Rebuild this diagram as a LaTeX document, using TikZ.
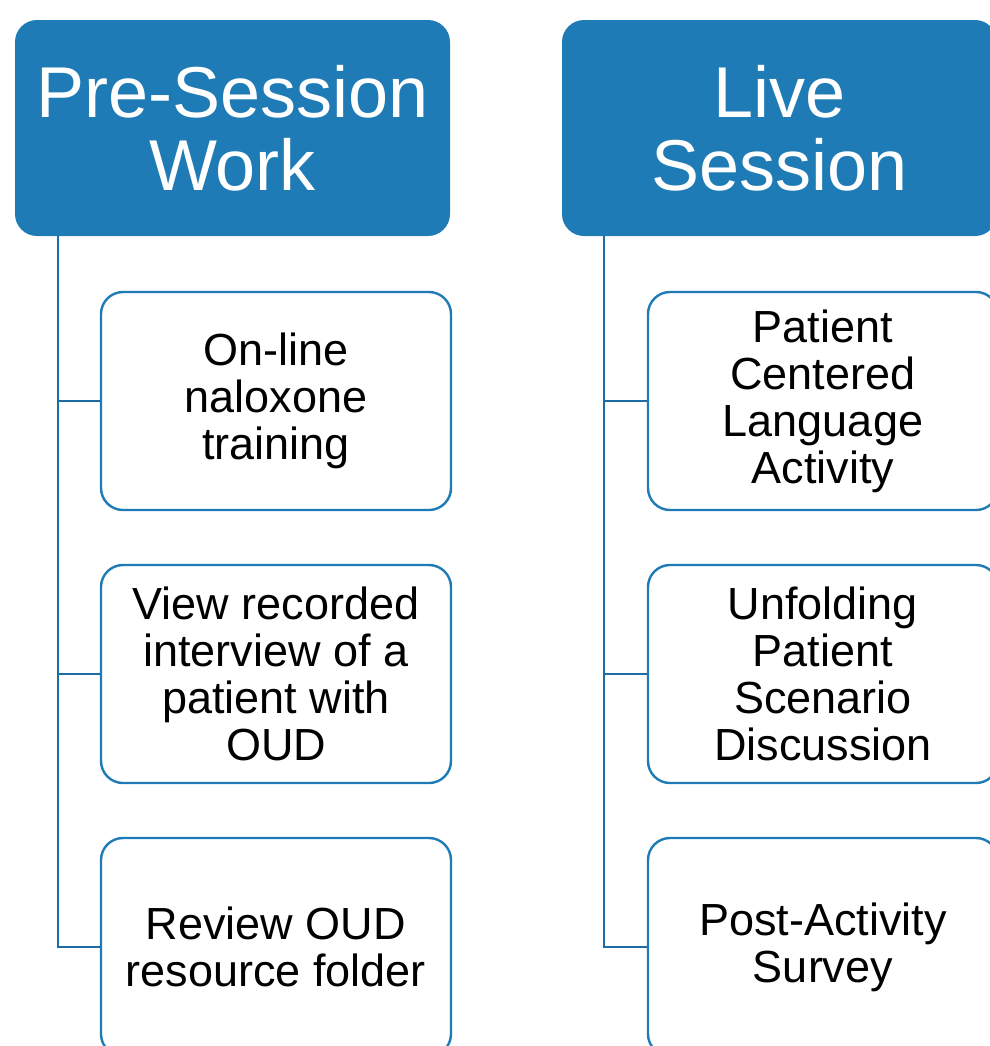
\documentclass[tikz,border=0pt]{standalone}
\usepackage{fontspec}
\setmainfont{Liberation Sans}
\usepackage{xcolor}
\definecolor{hdrblue}{RGB}{31,123,182}
\definecolor{lineblue}{RGB}{30,108,166}

\begin{document}
\begin{tikzpicture}[x=0.5pt,y=-0.5pt,
  header/.style={fill=hdrblue,draw=none,rounded corners=11pt,minimum width=217.5pt,
    minimum height=108pt,inner sep=0pt,text=white,align=center,
    font=\fontsize{36}{36.5}\selectfont},
  item/.style={draw=hdrblue,line width=1.2pt,fill=white,rounded corners=11pt,
    minimum width=175pt,minimum height=109pt,inner sep=0pt,align=center,
    font=\fontsize{22.5}{23.5}\selectfont},
  branch/.style={draw=lineblue,line width=1pt}]
\useasboundingbox (0,0) rectangle (990,1046);
\clip (0,0) rectangle (990,1046);

% headers
\node[header] (pre) at (232.5,128) {Pre-Session\\Work};
\node[header] (live) at (779.5,128) {Live\\Session};

% pre-session items
\node[item] (pre1) at (276,401) {On-line\\naloxone\\training};
\node[item] (pre2) at (276,674) {View recorded\\interview of a\\patient with\\OUD};
\node[item] (pre3) at (276,947) {Review OUD\\resource folder};

% live session items
\node[item] (live1) at (823,401) {Patient\\Centered\\Language\\Activity};
\node[item] (live2) at (823,674) {Unfolding\\Patient\\Scenario\\Discussion};
\node[item] (live3) at (823,947) {Post-Activity\\Survey};

% branches
\draw[branch] ([xshift=21.5pt]pre.south west) |- (pre1.west);
\draw[branch] ([xshift=21.5pt]pre.south west) |- (pre2.west);
\draw[branch] ([xshift=21.5pt]pre.south west) |- (pre3.west);
\draw[branch] ([xshift=21pt]live.south west) |- (live1.west);
\draw[branch] ([xshift=21pt]live.south west) |- (live2.west);
\draw[branch] ([xshift=21pt]live.south west) |- (live3.west);
\end{tikzpicture}
\end{document}
